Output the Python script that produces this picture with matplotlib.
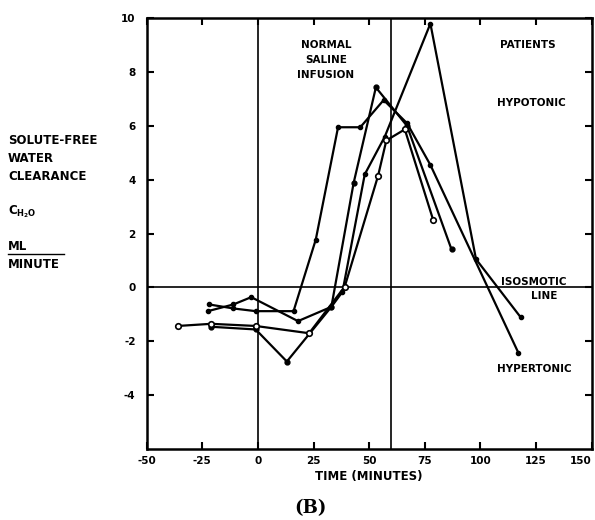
import matplotlib
matplotlib.use("Agg")
import matplotlib.pyplot as plt

plt.rcParams["axes.unicode_minus"] = False

# Series (time in minutes, CH2O in ml/min)
plateau_x = [-22, -11, -1, 16, 26, 36, 46, 56.5, 67, 77.5, 117]
plateau_y = [-0.63, -0.78, -0.88, -0.88, 1.78, 5.95, 5.95, 6.96, 6.1, 4.55, -2.42]

peak_x = [-22.5, -11, -3, 18, 33, 38, 48, 57, 77.5, 98, 118]
peak_y = [-0.88, -0.63, -0.36, -1.25, -0.72, -0.16, 4.2, 5.6, 9.8, 1.05, -1.1]

dip_x = [-21, -1, 13, 33, 43, 53, 67, 87]
dip_y = [-1.46, -1.56, -2.75, -0.72, 3.88, 7.43, 6.0, 1.41]

open_x = [-36, -21, -1, 23, 39, 54, 57.7, 66, 78.7]
open_y = [-1.43, -1.35, -1.43, -1.70, 0.03, 4.15, 5.46, 5.87, 2.52]

xticks = [-50, -25, 0, 25, 50, 75, 100, 125, 150]
xticklabels = ["-50", "-25", "0", "25", "50", "75", "100", "125", "150"]
yticks = [-4, -2, 0, 2, 4, 6, 8, 10]
yticklabels = ["-4", "-2", "0", "2", "4", "6", "8", "10"]

fig = plt.figure(figsize=(5.95, 5.2), dpi=100)
ax = fig.add_axes([0.2465, 0.1365, 0.7480, 0.8285])
ax.set_xlim(-50, 150)
ax.set_ylim(-6, 10)

lw = 1.6
ax.axvline(0, color="black", lw=1.2)
ax.axvline(60, color="black", lw=1.2)
ax.axhline(0, color="black", lw=1.2)

ax.plot(plateau_x, plateau_y, color="black", lw=lw, marker="o", ms=3, mfc="black")
ax.plot(peak_x, peak_y, color="black", lw=lw, marker="o", ms=3, mfc="black")
ax.plot(dip_x, dip_y, color="black", lw=lw, marker="o", ms=3.5, mfc="black")
ax.plot(open_x, open_y, color="black", lw=lw, marker="o", ms=4, mfc="white", mew=1.2)

for s in ax.spines.values():
    s.set_linewidth(1.8)

ax.set_xticks(xticks)
ax.set_xticklabels(xticklabels)
ax.set_yticks(yticks)
ax.set_yticklabels(yticklabels)
ax.tick_params(direction="in", length=5, width=1.5, top=True, right=True,
               labelsize=7.5)
ax.tick_params(axis="y", pad=8)
ax.tick_params(axis="x", pad=5)
for lab in ax.get_xticklabels() + ax.get_yticklabels():
    lab.set_fontweight("bold")
ax.get_xticklabels()[-1].set_horizontalalignment("right")

tf = dict(fontsize=7.5, fontweight="bold", color="black")
ax.text(30.5, 8.45, "NORMAL\nSALINE\nINFUSION", ha="center", va="center",
        linespacing=1.6, **tf)
ax.text(121.5, 9.0, "PATIENTS", ha="center", va="center", **tf)
ax.text(123, 6.85, "HYPOTONIC", ha="center", va="center", **tf)
ax.text(124, 0.22, "ISOSMOTIC", ha="center", va="center", **tf)
ax.text(128.5, -0.32, "LINE", ha="center", va="center", **tf)
ax.text(124, -3.04, "HYPERTONIC", ha="center", va="center", **tf)

ax.set_xlabel("TIME (MINUTES)", fontsize=8.5, fontweight="bold", labelpad=3)

lf = dict(fontsize=8.5, fontweight="bold", color="black", ha="left", va="center")
fig.text(8 / 595, 1 - 141 / 520, "SOLUTE-FREE", **lf)
fig.text(8 / 595, 1 - 159 / 520, "WATER", **lf)
fig.text(8 / 595, 1 - 177 / 520, "CLEARANCE", **lf)
fig.text(8 / 595, 1 - 212 / 520, r"C$_{\mathbf{H_2O}}$", **lf)
fig.text(8 / 595, 1 - 246 / 520, "ML", **lf)
fig.add_artist(plt.Line2D([8 / 595, 64 / 595], [1 - 254 / 520, 1 - 254 / 520],
                          color="black", lw=1.0, transform=fig.transFigure))
fig.text(8 / 595, 1 - 264 / 520, "MINUTE", **lf)

fig.text(310 / 595, 1 - 508 / 520, "(B)", ha="center", va="center",
         fontsize=13, fontweight="bold", family="DejaVu Serif")

fig.savefig("out.png", dpi=100)
